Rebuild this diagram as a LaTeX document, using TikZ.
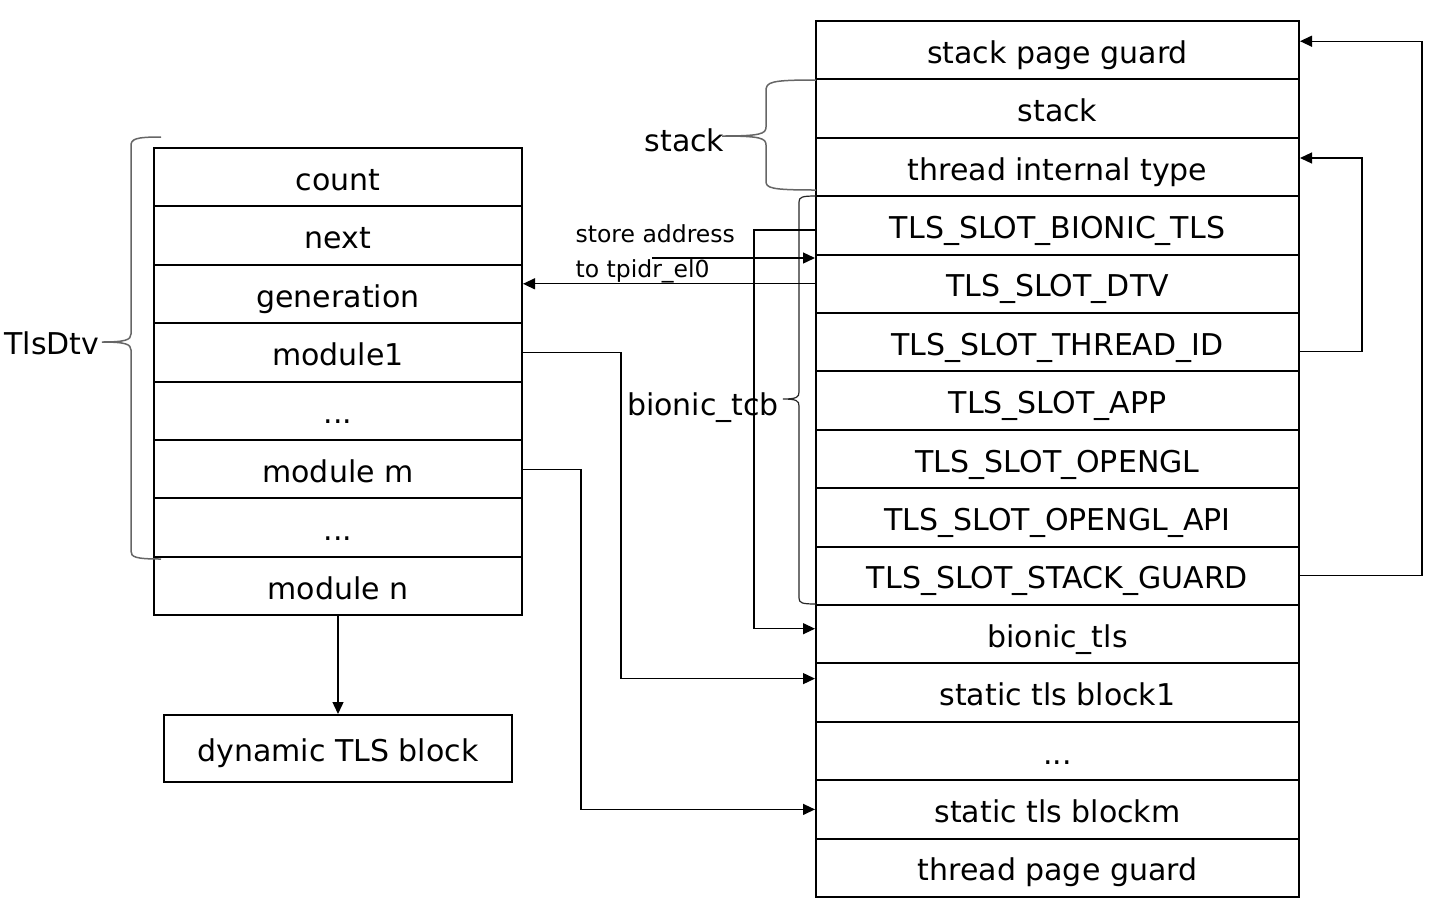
\documentclass[tikz,border=0pt]{standalone}
\usepackage{fontspec}
\setmainfont{DejaVu Sans}
\usetikzlibrary{positioning}
\usetikzlibrary{arrows.meta}

\begin{document}
\begin{tikzpicture}[x=1pt,y=-1pt,->,>={Triangle[length=12pt,width=11pt]},line width=1.3pt,
					node distance=58.4pt,font=\fontsize{30}{36}\selectfont]
					\tikzstyle{cell}=[shape=rectangle,draw,line width=2pt,inner sep=0pt,minimum width=483pt,
					minimum height=58.4pt,text height=30pt,text depth=4pt]
					\tikzstyle{brace}=[-,draw=black!60,line width=1.5pt]
					\useasboundingbox (0,0) rectangle (1434,906);
					
					% thread memory
					\node[cell]       (R_0) at (1057.5,50.2) {stack page guard};
					\node[cell]       (R_1) [below of=R_0]  {stack};
					\node[cell]       (R_2) [below of=R_1]  {thread internal type};
					\node[cell]       (R_3) [below of=R_2]  {TLS\_SLOT\_BIONIC\_TLS};
					\node[cell]       (R_4) [below of=R_3]  {TLS\_SLOT\_DTV};
					\node[cell]       (R_5) [below of=R_4]  {TLS\_SLOT\_THREAD\_ID};
					\node[cell]       (R_6) [below of=R_5]  {TLS\_SLOT\_APP};
					\node[cell]       (R_7) [below of=R_6]  {TLS\_SLOT\_OPENGL};
					\node[cell]       (R_8) [below of=R_7]  {TLS\_SLOT\_OPENGL\_API};
					\node[cell]       (R_9) [below of=R_8]  {TLS\_SLOT\_STACK\_GUARD};
					\node[cell]       (R_10) [below of=R_9]  {bionic\_tls};
					\node[cell]       (R_11) [below of=R_10] {static tls block1};
					\node[cell]       (R_12) [below of=R_11] {...};
					\node[cell]       (R_13) [below of=R_12] {static tls blockm};
					\node[cell]       (R_14) [below of=R_13] {thread page guard};
					
					% TlsDtv
					\node[cell,minimum width=368pt] (L_0) at (338,177.2) {count};
					\node[cell,minimum width=368pt] (L_1) [below of=L_0] {next};
					\node[cell,minimum width=368pt] (L_2) [below of=L_1] {generation};
					\node[cell,minimum width=368pt] (L_3) [below of=L_2] {module1};
					\node[cell,minimum width=368pt] (L_4) [below of=L_3] {...};
					\node[cell,minimum width=368pt] (L_5) [below of=L_4] {module m};
					\node[cell,minimum width=368pt] (L_6) [below of=L_5] {...};
					\node[cell,minimum width=368pt] (L_7) [below of=L_6] {module n};
					\node[cell,minimum width=348pt,minimum height=67pt] (D) at (338,748.5) {dynamic TLS block};
					
					% labels
					\node[anchor=base] (stack_lbl) at (684.5,151) {stack};
					\node[anchor=base] (tcb_lbl) at (703,415) {bionic\_tcb};
					\node[anchor=base] (dtv_lbl) at (52,354) {TlsDtv};
					\node[anchor=north west,align=left,inner sep=0pt,font=\fontsize{23.5}{35}\selectfont] (tpidr_lbl)
					at (575,224) {store address\\to tpidr\_el0};
					\coordinate (tpidr) at (652,258);
					
					\draw[brace] (816,80) .. controls (770,80) and (766,82) .. (766,91) -- (766,127)
					.. controls (766,134) and (760,136) .. (722,136) .. controls (760,136) and (766,138) .. (766,145)
					-- (766,181) .. controls (766,188) and (770,190) .. (816,190);
					\draw[brace,draw=black!85,line width=1.2pt] (816,196) .. controls (802,196) and (799,197) .. (799,202) -- (799,392)
					.. controls (799,397) and (797,399) .. (783,399) .. controls (797,399) and (799,401) .. (799,406)
					-- (799,598) .. controls (799,603) and (802,604) .. (816,604);
					\draw[brace] (161,137) .. controls (135,137) and (131,139) .. (131,146) -- (131,334)
					.. controls (131,340) and (125,342) .. (102,342) .. controls (125,342) and (131,344) .. (131,350)
					-- (131,551) .. controls (131,557) and (135,559) .. (161,559);
					
					\draw (L_7) -- (D);
					\draw (L_3.east) -- ++(98,0) |- ([yshift=14pt]R_11.west);
					\draw (L_5.east) -- ++(58,0) |- (R_13.west);
					\draw (R_4.west) -- (R_4.west -| L_2.east);
					\draw (tpidr) -- (tpidr -| R_4.west);
					\draw ([yshift=-4.5pt]R_3.west) -- ++(-61,0) |- ([yshift=5.5pt]R_10.west);
					\draw ([yshift=-9pt]R_5.east) -- ++(62,0) |- ([yshift=9pt]R_2.east);
					\draw (R_9.east) -- ++(122,0) |- ([yshift=9pt]R_0.east);
\end{tikzpicture}
\end{document}
